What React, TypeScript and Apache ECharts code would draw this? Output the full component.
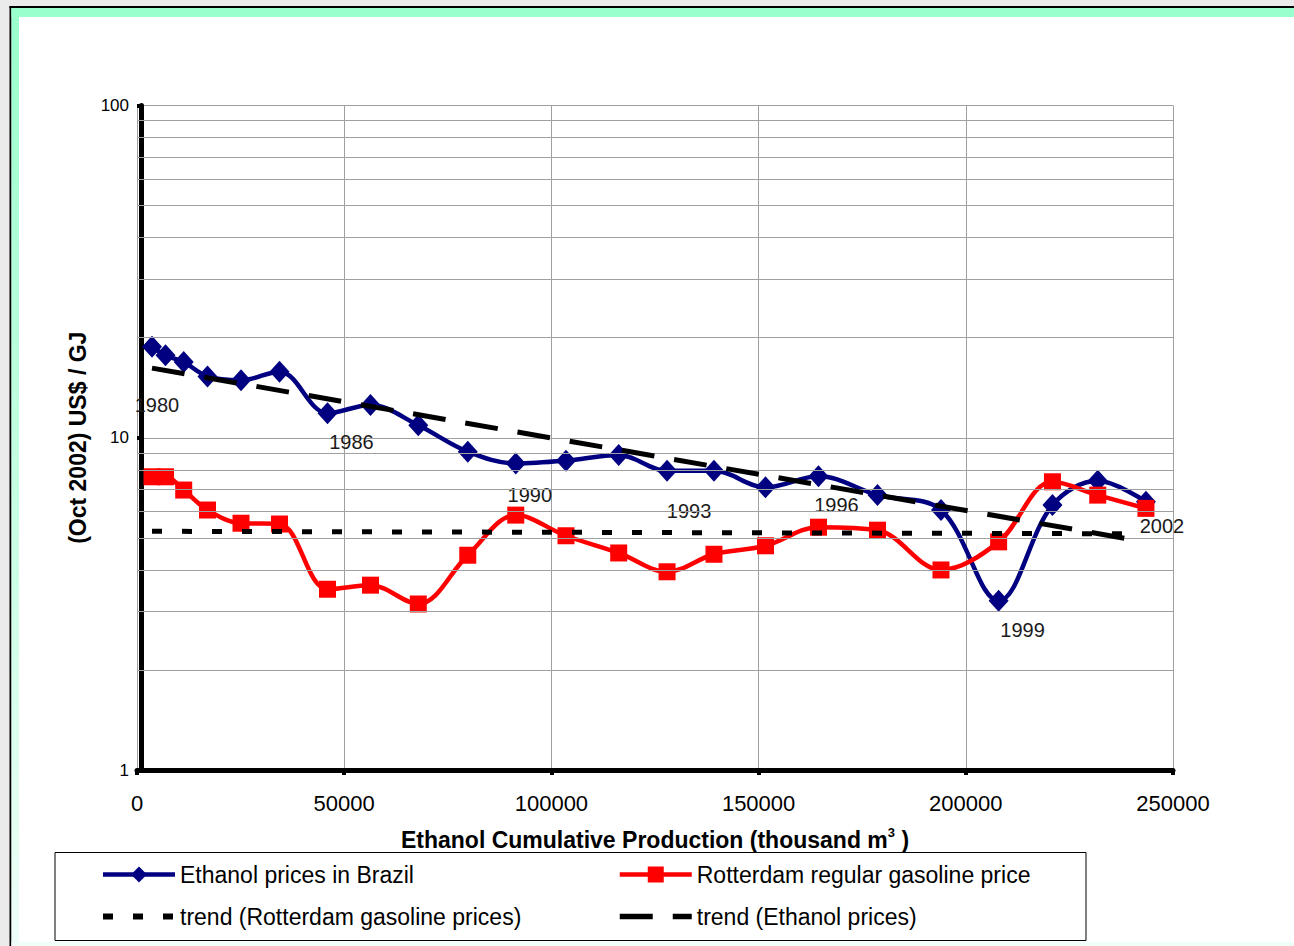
import React, { useEffect, useRef } from "react";
import * as echarts from "echarts";

// ---- data ----
const years = [1980, 1981, 1982, 1983, 1984, 1985, 1986, 1987, 1988, 1989, 1990, 1991, 1992, 1993, 1994, 1995, 1996, 1997, 1998, 1999, 2000, 2001, 2002];
const cumulativeProduction = [3620, 6880, 11270, 17010, 25100, 34390, 45970, 56340, 67880, 79820, 91400, 103520, 116240, 127910, 139230, 151660, 164450, 178690, 194010, 207920, 220910, 231840, 243470];
const ethanolPrices = [18.8, 17.7, 16.9, 15.3, 14.9, 15.8, 11.85, 12.55, 10.9, 9.08, 8.37, 8.53, 8.87, 7.95, 7.95, 7.09, 7.66, 6.72, 6.06, 3.23, 6.27, 7.42, 6.42];
const gasolinePrices = [7.63, 7.63, 6.96, 6.06, 5.53, 5.5, 3.5, 3.6, 3.16, 4.43, 5.85, 5.07, 4.5, 3.95, 4.46, 4.73, 5.38, 5.27, 4.0, 4.86, 7.37, 6.72, 6.13];
const ethanolTrendX = [3620, 240820];
const ethanolTrendY = [16.2, 4.92];
const gasolineTrendX = [3620, 242020];
const gasolineTrendY = [5.23, 5.14];
const labelledYears = [1980, 1986, 1990, 1993, 1996, 1999, 2002];
const xTicks = [0, 50000, 100000, 150000, 200000, 250000];
const yMinorGrid = [2, 3, 4, 5, 6, 7, 8, 9, 20, 30, 40, 50, 60, 70, 80, 90];

const SERIES_ETHANOL = "Ethanol prices in Brazil";
const SERIES_GASOLINE = "Rotterdam regular gasoline price";
const SERIES_TREND_GAS = "trend (Rotterdam gasoline prices)";
const SERIES_TREND_ETH = "trend (Ethanol prices)";

// ---- styling ----
const FONT = "'Liberation Sans', Arial, sans-serif";
const yearLabelOffsets: Record<number, [number, number]> = {
  1980: [5, 58],
  1986: [24, 29],
  1990: [14, 32],
  1993: [22, 40],
  1996: [18, 29],
  1999: [24, 29],
  2002: [16, 24],
};
const GRID_GRAY = "#a0a0a0";

export default function App() {
  const ref = useRef<HTMLDivElement>(null);

  useEffect(() => {
    document.body.style.margin = "0";
    document.body.style.overflow = "hidden";
    if (!ref.current) return;
    const chart = echarts.init(ref.current, undefined, { renderer: "svg" });

    const ethanolData = years.map((yr, i) => {
      const item: any = { value: [cumulativeProduction[i], ethanolPrices[i]] };
      if (labelledYears.includes(yr)) {
        item.label = {
          show: true,
          position: "inside",
          formatter: String(yr),
          offset: yearLabelOffsets[yr],
          color: "#1a1a1a",
          fontSize: 20,
          fontFamily: FONT,
        };
      }
      return item;
    });
    const gasolineData = years.map((_, i) => [cumulativeProduction[i], gasolinePrices[i]]);
    const ethTrend = ethanolTrendX.map((x, i) => [x, ethanolTrendY[i]]);
    const gasTrend = gasolineTrendX.map((x, i) => [x, gasolineTrendY[i]]);

    const legendCommon = {
      orient: "vertical",
      top: 858,
      padding: 5,
      itemWidth: 72,
      itemHeight: 20,
      itemGap: 19,
      selectedMode: false,
      textStyle: { fontSize: 23, color: "#000", fontFamily: FONT },
    };

    const option: any = {
      animation: false,
      backgroundColor: "#ebebeb",
      graphic: [
        { type: "rect", z: -10, shape: { x: 9.5, y: 6, width: 1290, height: 2 }, style: { fill: "#000" } },
        { type: "rect", z: -10, shape: { x: 9.5, y: 6, width: 2, height: 950 }, style: { fill: "#000" } },
        { type: "rect", z: -10, shape: { x: 11.5, y: 8, width: 1290, height: 9 }, style: { fill: "#99ffcc" } },
        {
          type: "rect",
          z: -10,
          shape: { x: 11.5, y: 8, width: 8, height: 940 },
          style: {
            fill: new echarts.graphic.LinearGradient(0, 0, 0, 1, [
              { offset: 0, color: "#99ffcc" },
              { offset: 1, color: "#effff8" },
            ]),
          },
        },
        { type: "rect", z: -10, shape: { x: 11.5, y: 942, width: 1290, height: 6 }, style: { fill: "#effff8" } },
        { type: "rect", z: -10, shape: { x: 19, y: 17, width: 1280, height: 925 }, style: { fill: "#ffffff" } },
        {
          type: "rect",
          z: -9,
          shape: { x: 55, y: 852.5, width: 1031, height: 88 },
          style: { fill: "#ffffff", stroke: "#000", lineWidth: 1 },
        },
      ],
      grid: { left: 137, top: 105.5, right: 121, bottom: 176, containLabel: false },
      legend: [
        {
          ...legendCommon,
          left: 95,
          data: [
            { name: SERIES_ETHANOL, lineStyle: { width: 4.5 } },
            { name: SERIES_TREND_GAS, itemStyle: { opacity: 0 }, lineStyle: { width: 6 } },
          ],
        },
        {
          ...legendCommon,
          left: 612,
          data: [
            { name: SERIES_GASOLINE, lineStyle: { width: 4.5 } },
            { name: SERIES_TREND_ETH, itemStyle: { opacity: 0 }, lineStyle: { width: 5.5 } },
          ],
        },
      ],
      xAxis: {
        type: "value",
        min: xTicks[0],
        max: xTicks[xTicks.length - 1],
        interval: xTicks[1] - xTicks[0],
        name: "{t|Ethanol Cumulative Production (thousand m}{s|3}{t| )}",
        nameLocation: "middle",
        nameGap: 56,
        nameTextStyle: {
          rich: {
            t: { fontSize: 23, fontWeight: "bold", color: "#000", fontFamily: FONT, lineHeight: 25, verticalAlign: "bottom" },
            s: { fontSize: 13, fontWeight: "bold", color: "#000", fontFamily: FONT, lineHeight: 25, verticalAlign: "top" },
          },
        },
        axisLine: { show: true, lineStyle: { color: "#000", width: 5 } },
        axisTick: { show: true, length: 5, lineStyle: { color: "#000", width: 4 } },
        axisLabel: { margin: 22, fontSize: 22, color: "#000", fontFamily: FONT, formatter: (v: number) => String(v) },
        splitLine: { show: true, lineStyle: { color: GRID_GRAY, width: 1 } },
      },
      yAxis: {
        type: "log",
        logBase: 10,
        min: 1,
        max: 100,
        offset: -4,
        name: "(Oct 2002) US$ / GJ",
        nameLocation: "middle",
        nameRotate: 90,
        nameGap: 50,
        nameTextStyle: { fontSize: 23, fontWeight: "bold", color: "#000", fontFamily: FONT },
        axisLine: { show: true, lineStyle: { color: "#000", width: 5 } },
        axisTick: { show: true, length: 4, lineStyle: { color: "#000", width: 4 } },
        axisLabel: { margin: 12, fontSize: 17, color: "#000", fontFamily: FONT },
        splitLine: { show: true, lineStyle: { color: GRID_GRAY, width: 1 } },
      },
      series: [
        {
          name: "minorGrid",
          type: "line",
          z: 1,
          data: [],
          silent: true,
          markLine: {
            silent: true,
            symbol: ["none", "none"],
            label: { show: false },
            lineStyle: { color: GRID_GRAY, width: 1, type: "solid" },
            data: yMinorGrid.map((v) => ({ yAxis: v })),
          },
        },
        {
          name: SERIES_ETHANOL,
          type: "line",
          z: 3,
          smooth: 0.35,
          symbol: "diamond",
          symbolSize: [20, 22],
          color: "#000080",
          lineStyle: { color: "#000080", width: 4.5 },
          itemStyle: { color: "#000080" },
          data: ethanolData,
        },
        {
          name: SERIES_GASOLINE,
          type: "line",
          z: 4,
          smooth: 0.35,
          symbol: "rect",
          symbolSize: 17,
          color: "#ff0000",
          lineStyle: { color: "#ff0000", width: 4.5 },
          itemStyle: { color: "#ff0000" },
          data: gasolineData,
        },
        {
          name: SERIES_TREND_GAS,
          type: "line",
          z: 5,
          symbol: "none",
          color: "#000",
          itemStyle: { color: "#000", opacity: 0 },
          lineStyle: { color: "#000", width: 5, type: [10, 20], cap: "butt" },
          data: gasTrend,
        },
        {
          name: SERIES_TREND_ETH,
          type: "line",
          z: 5,
          symbol: "none",
          color: "#000",
          itemStyle: { color: "#000", opacity: 0 },
          lineStyle: { color: "#000", width: 5, type: [33, 20], cap: "butt" },
          data: ethTrend,
        },
      ],
    };

    chart.setOption(option);
    return () => chart.dispose();
  }, []);

  return <div ref={ref} style={{ width: 1294, height: 946 }} />;
}
